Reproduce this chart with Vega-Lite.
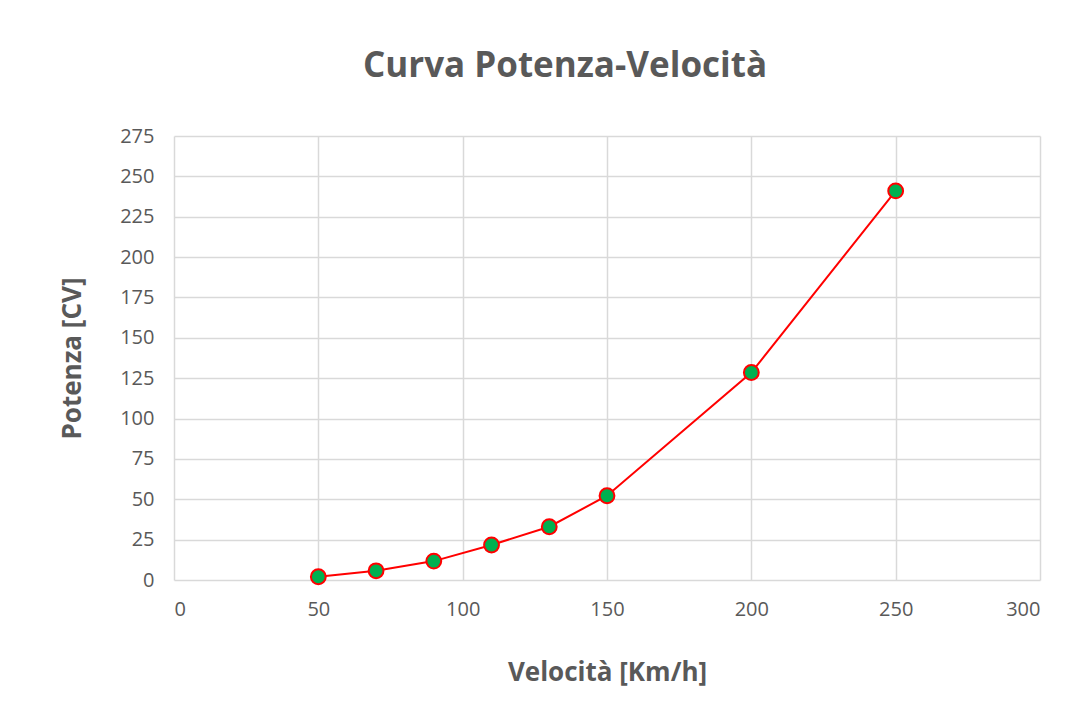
{
  "$schema": "https://vega.github.io/schema/vega-lite/v6.json",
  "width": 866,
  "height": 444,
  "autosize": "none",
  "padding": {"left": 174, "top": 136, "right": 27, "bottom": 135},
  "background": "white",
  "title": {
    "text": "Curva Potenza-Velocità",
    "font": "Open Sans",
    "fontSize": 35,
    "fontWeight": "bold",
    "color": "#595959",
    "anchor": "middle",
    "dx": -42,
    "offset": 42
  },
  "config": {
    "view": {"stroke": null},
    "axis": {
      "labelFont": "Open Sans",
      "labelFontSize": 20,
      "labelColor": "#595959",
      "titleFont": "Open Sans",
      "titleFontSize": 26,
      "titleFontWeight": "bold",
      "titleColor": "#595959",
      "gridColor": "#d9d9d9",
      "gridWidth": 1.5,
      "domain": false,
      "ticks": false
    }
  },
  "data": {
    "values": [
      {"v": 50, "p": 2.0},
      {"v": 70, "p": 5.7},
      {"v": 90, "p": 11.7},
      {"v": 110, "p": 21.7},
      {"v": 130, "p": 33.0},
      {"v": 150, "p": 52.2},
      {"v": 200, "p": 128.5},
      {"v": 250, "p": 241.0}
    ]
  },
  "encoding": {
    "x": {
      "field": "v",
      "type": "quantitative",
      "title": "Velocità [Km/h]",
      "scale": {"domain": [0, 300], "nice": false, "zero": true},
      "axis": {"values": [0, 50, 100, 150, 200, 250, 300], "labelPadding": 19, "titlePadding": 40}
    },
    "y": {
      "field": "p",
      "type": "quantitative",
      "title": "Potenza [CV]",
      "scale": {"domain": [0, 275], "nice": false},
      "axis": {"values": [0, 25, 50, 75, 100, 125, 150, 175, 200, 225, 250, 275], "labelPadding": 20, "titlePadding": 34}
    }
  },
  "layer": [
    {"mark": {"type": "line", "color": "#ff0000", "strokeWidth": 2}},
    {"mark": {"type": "point", "shape": "circle", "filled": true, "fill": "#00b050", "stroke": "#ff0000", "strokeWidth": 2, "size": 220, "opacity": 1}}
  ]
}
